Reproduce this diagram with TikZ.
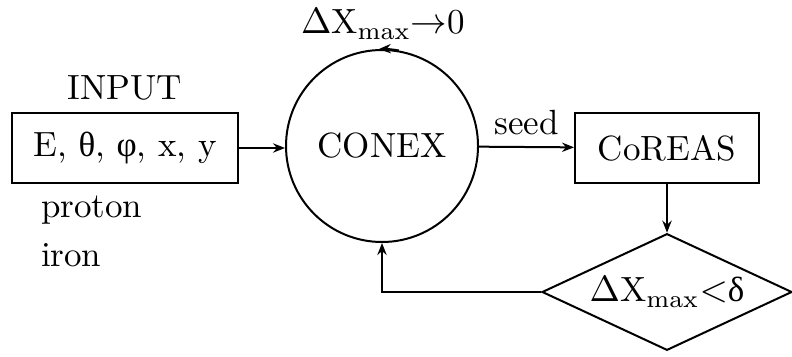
\documentclass[tikz,border=0pt]{standalone}
\usepackage{fontspec}
\newfontfamily\grk{Liberation Serif}
\usetikzlibrary{shapes.geometric,arrows.meta}
\begin{document}
\begin{tikzpicture}[
  x=0.3pt, y=-0.3pt,
  >={Stealth[length=3.6pt, width=2.8pt, inset=1.2pt]},
  every node/.style={font=\fontsize{10.5}{13}\selectfont},
  every path/.style={line width=0.6pt},
  block/.style={draw, rectangle, minimum height=20.9pt, inner sep=0pt},
  code/.style={draw, circle, minimum size=57.6pt, inner sep=0pt},
  test/.style={draw, diamond, minimum width=75pt, minimum height=35pt, aspect=2.15, inner sep=0pt}
]
\useasboundingbox (0,0) rectangle (792,356);
\node[block, minimum width=67.8pt] (params) at (125,148) {E, {\grk θ}, {\grk φ}, x, y};
\node (inlab) at (125,88) {INPUT};
\node[anchor=north west, align=left, inner sep=0pt] (prim) at (40,195) {proton\\[1.8pt]iron};
\node[code] (conex) at (382,146) {CONEX};
\node (goal) at (383,24) {$\Delta$X$_{\mathrm{max}}$$\to$0};
\node[block, minimum width=55.2pt] (coreas) at (667,148) {CoREAS};
\node[test] (check) at (667,292) {$\Delta$X$_{\mathrm{max}}$$<${\grk δ}};
% connectors
\draw[->] (params.east) -- (params.east -| conex.west);
\draw[->] (conex) -- (coreas) node[midway, above] {seed};
\draw[->] (coreas) -- (check);
\draw[->] (check.west) -| (conex.south);
\draw[->] (conex.80) arc[start angle=80, end angle=92, radius=28.8pt];
\end{tikzpicture}
\end{document}
